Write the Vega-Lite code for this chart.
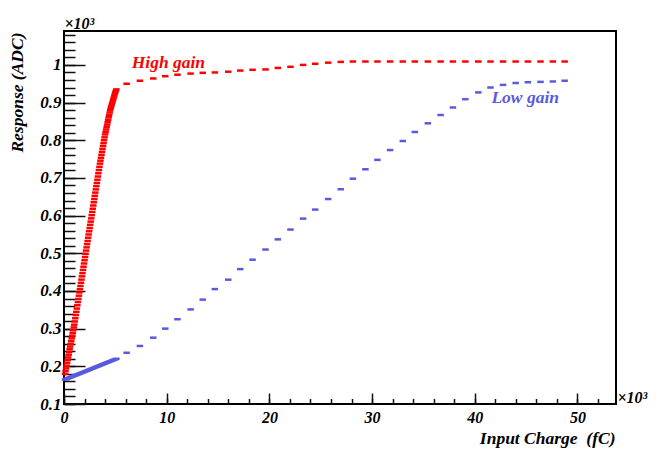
{
  "$schema": "https://vega.github.io/schema/vega-lite/v6.json",
  "width": 552,
  "height": 373,
  "autosize": "none",
  "padding": {"left": 64, "top": 31, "right": 48, "bottom": 52},
  "background": "white",
  "config": {
    "view": {"stroke": "#000000", "strokeWidth": 2},
    "axis": {
      "domain": false, "grid": false, "tickColor": "#111111", "tickWidth": 1.5,
      "labelFont": "Liberation Serif", "labelFontSize": 17, "labelFontStyle": "italic", "labelFontWeight": "bold", "labelColor": "#000000",
      "labelFlush": false, "labelOverlap": false,
      "titleFont": "Liberation Serif", "titleFontSize": 17.5, "titleFontStyle": "italic", "titleFontWeight": "bold", "titleColor": "#000000"
    }
  },
  "datasets": {
    "high": [
      {"charge":100,"adc":180},{"charge":150,"adc":187.3},{"charge":200,"adc":194.5},{"charge":250,"adc":201.8},{"charge":300,"adc":209},
      {"charge":350,"adc":216.3},{"charge":400,"adc":223.5},{"charge":450,"adc":230.8},{"charge":500,"adc":238},{"charge":550,"adc":245.3},
      {"charge":600,"adc":252.5},{"charge":650,"adc":259.8},{"charge":700,"adc":267},{"charge":750,"adc":274.3},{"charge":800,"adc":281.5},
      {"charge":850,"adc":288.8},{"charge":900,"adc":296},{"charge":950,"adc":303.3},{"charge":1000,"adc":310.5},{"charge":1050,"adc":319.1},
      {"charge":1100,"adc":327.6},{"charge":1150,"adc":336.2},{"charge":1200,"adc":344.7},{"charge":1250,"adc":353.3},{"charge":1300,"adc":361.8},
      {"charge":1350,"adc":370.4},{"charge":1400,"adc":378.9},{"charge":1450,"adc":387.5},{"charge":1500,"adc":396},{"charge":1550,"adc":404.6},
      {"charge":1600,"adc":413.1},{"charge":1650,"adc":421.7},{"charge":1700,"adc":430.2},{"charge":1750,"adc":438.8},{"charge":1800,"adc":447.3},
      {"charge":1850,"adc":455.9},{"charge":1900,"adc":464.4},{"charge":1950,"adc":473},{"charge":2000,"adc":481.5},{"charge":2050,"adc":490.1},
      {"charge":2100,"adc":498.6},{"charge":2150,"adc":507.2},{"charge":2200,"adc":515.7},{"charge":2250,"adc":524.3},{"charge":2300,"adc":532.8},
      {"charge":2350,"adc":541.4},{"charge":2400,"adc":549.9},{"charge":2450,"adc":558.5},{"charge":2500,"adc":567},{"charge":2550,"adc":575.6},
      {"charge":2600,"adc":584.1},{"charge":2650,"adc":592.7},{"charge":2700,"adc":601.2},{"charge":2750,"adc":609.8},{"charge":2800,"adc":618.3},
      {"charge":2850,"adc":626.9},{"charge":2900,"adc":635.4},{"charge":2950,"adc":644},{"charge":3000,"adc":652.5},{"charge":3050,"adc":661.1},
      {"charge":3100,"adc":669.6},{"charge":3150,"adc":678.2},{"charge":3200,"adc":686.7},{"charge":3250,"adc":695.3},{"charge":3300,"adc":703.8},
      {"charge":3350,"adc":712.4},{"charge":3400,"adc":720.9},{"charge":3450,"adc":729.5},{"charge":3500,"adc":738},{"charge":3550,"adc":745.8},
      {"charge":3600,"adc":753.5},{"charge":3650,"adc":761.3},{"charge":3700,"adc":769},{"charge":3750,"adc":776.8},{"charge":3800,"adc":784.5},
      {"charge":3850,"adc":792.3},{"charge":3900,"adc":800},{"charge":3950,"adc":807.8},{"charge":4000,"adc":815.5},{"charge":4050,"adc":822},
      {"charge":4100,"adc":828.5},{"charge":4150,"adc":835},{"charge":4200,"adc":841.5},{"charge":4250,"adc":848},{"charge":4300,"adc":854.5},
      {"charge":4350,"adc":861},{"charge":4400,"adc":867.5},{"charge":4450,"adc":874},{"charge":4500,"adc":880.5},{"charge":4550,"adc":885.3},
      {"charge":4600,"adc":890},{"charge":4650,"adc":894.8},{"charge":4700,"adc":899.5},{"charge":4750,"adc":904.3},{"charge":4800,"adc":909},
      {"charge":4850,"adc":913.8},{"charge":4900,"adc":918.5},{"charge":4950,"adc":923.3},{"charge":5000,"adc":928},{"charge":5050,"adc":931.5},
      {"charge":5100,"adc":935},
      {"charge":6100,"adc":950},{"charge":7390,"adc":958},{"charge":8690,"adc":964},{"charge":9860,"adc":970},{"charge":11050,"adc":974},
      {"charge":12330,"adc":977},{"charge":13510,"adc":979},{"charge":14690,"adc":980},{"charge":15990,"adc":982},{"charge":17160,"adc":985},
      {"charge":18360,"adc":987},{"charge":19620,"adc":988},{"charge":20820,"adc":992},{"charge":22050,"adc":995},{"charge":23280,"adc":1000},
      {"charge":24460,"adc":1003},{"charge":25720,"adc":1006},{"charge":26950,"adc":1008},{"charge":28130,"adc":1009},{"charge":29350,"adc":1009},
      {"charge":30520,"adc":1009},{"charge":31750,"adc":1009},{"charge":32990,"adc":1009},{"charge":34160,"adc":1009},{"charge":35430,"adc":1009},
      {"charge":36670,"adc":1009},{"charge":37870,"adc":1009},{"charge":39080,"adc":1009},{"charge":40340,"adc":1009},{"charge":41530,"adc":1009},
      {"charge":42750,"adc":1009},{"charge":43980,"adc":1009},{"charge":45170,"adc":1009},{"charge":46400,"adc":1009},{"charge":47600,"adc":1009},
      {"charge":48750,"adc":1009}
    ],
    "low": [
      {"charge":100,"adc":165},{"charge":200,"adc":166.1},{"charge":300,"adc":167.2},{"charge":400,"adc":168.3},{"charge":500,"adc":169.4},
      {"charge":600,"adc":170.5},{"charge":700,"adc":171.6},{"charge":800,"adc":172.7},{"charge":900,"adc":173.8},{"charge":1000,"adc":174.9},
      {"charge":1100,"adc":176},{"charge":1200,"adc":177.1},{"charge":1300,"adc":178.2},{"charge":1400,"adc":179.3},{"charge":1500,"adc":180.4},
      {"charge":1600,"adc":181.5},{"charge":1700,"adc":182.6},{"charge":1800,"adc":183.7},{"charge":1900,"adc":184.8},{"charge":2000,"adc":185.9},
      {"charge":2100,"adc":187},{"charge":2200,"adc":188.1},{"charge":2300,"adc":189.2},{"charge":2400,"adc":190.3},{"charge":2500,"adc":191.4},
      {"charge":2600,"adc":192.5},{"charge":2700,"adc":193.6},{"charge":2800,"adc":194.7},{"charge":2900,"adc":195.8},{"charge":3000,"adc":196.9},
      {"charge":3100,"adc":198},{"charge":3200,"adc":199.1},{"charge":3300,"adc":200.2},{"charge":3400,"adc":201.3},{"charge":3500,"adc":202.4},
      {"charge":3600,"adc":203.5},{"charge":3700,"adc":204.6},{"charge":3800,"adc":205.7},{"charge":3900,"adc":206.8},{"charge":4000,"adc":207.9},
      {"charge":4100,"adc":209},{"charge":4200,"adc":210.1},{"charge":4300,"adc":211.2},{"charge":4400,"adc":212.3},{"charge":4500,"adc":213.4},
      {"charge":4600,"adc":214.5},{"charge":4700,"adc":215.6},{"charge":4800,"adc":216.7},{"charge":4900,"adc":217.8},{"charge":5000,"adc":218.9},
      {"charge":5100,"adc":220},
      {"charge":6100,"adc":236},{"charge":7390,"adc":254},{"charge":8690,"adc":276},{"charge":9860,"adc":300},{"charge":11050,"adc":325},
      {"charge":12330,"adc":351},{"charge":13510,"adc":377},{"charge":14690,"adc":405},{"charge":15990,"adc":430},{"charge":17160,"adc":458},
      {"charge":18360,"adc":483},{"charge":19620,"adc":510},{"charge":20820,"adc":537},{"charge":22050,"adc":563},{"charge":23280,"adc":592},
      {"charge":24460,"adc":616},{"charge":25720,"adc":644},{"charge":26950,"adc":670},{"charge":28130,"adc":698},{"charge":29350,"adc":723},
      {"charge":30520,"adc":748},{"charge":31750,"adc":774},{"charge":32990,"adc":798},{"charge":34160,"adc":822},{"charge":35430,"adc":845},
      {"charge":36670,"adc":867},{"charge":37870,"adc":887},{"charge":39080,"adc":909},{"charge":40340,"adc":927},{"charge":41530,"adc":940},
      {"charge":42750,"adc":947},{"charge":43980,"adc":952},{"charge":45170,"adc":954},{"charge":46400,"adc":955},{"charge":47600,"adc":956},
      {"charge":48750,"adc":958}
    ]
  },
  "layer": [
    {
      "data": {"name": "high"},
      "mark": {"type": "tick", "orient": "horizontal", "size": 6.5, "thickness": 2.5, "color": "#ff0000", "opacity": 1},
      "encoding": {
        "x": {"field": "charge", "type": "quantitative",
          "scale": {"domain": [0, 53750], "nice": false, "zero": false},
          "axis": {"orient": "bottom", "values": [0, 10000, 20000, 30000, 40000, 50000],
            "labelExpr": "datum.value / 1000", "tickSize": -11, "labelPadding": 16, "labelFontSize": 16,
            "title": "Input Charge \u00a0(fC)", "titleX": 551, "titleY": 39, "titleAlign": "right", "titleBaseline": "alphabetic", "titleAngle": 0}},
        "y": {"field": "adc", "type": "quantitative",
          "scale": {"domain": [100, 1090], "nice": false, "zero": false},
          "axis": {"orient": "left", "values": [100, 200, 300, 400, 500, 600, 700, 800, 900, 1000],
            "labelExpr": "datum.value / 1000", "tickSize": -21, "labelPadding": 24,
            "title": "Response (ADC)", "titleX": -42, "titleY": 1, "titleAngle": 270, "titleAlign": "right", "titleBaseline": "alphabetic"}}
      }
    },
    {
      "data": {"name": "low"},
      "mark": {"type": "tick", "orient": "horizontal", "size": 6.5, "thickness": 2.5, "color": "#5a5ade", "opacity": 1},
      "encoding": {
        "x": {"field": "charge", "type": "quantitative",
          "axis": {"orient": "bottom", "values": [0, 2000, 4000, 6000, 8000, 10000, 12000, 14000, 16000, 18000, 20000, 22000, 24000, 26000, 28000, 30000, 32000, 34000, 36000, 38000, 40000, 42000, 44000, 46000, 48000, 50000, 52000],
            "labels": false, "tickSize": -5.5,
            "title": "×10³", "titleX": 553, "titleY": -2, "titleAlign": "left", "titleBaseline": "alphabetic", "titleAngle": 0, "titleFontSize": 16}},
        "y": {"field": "adc", "type": "quantitative",
          "axis": {"orient": "left", "values": [100, 120, 140, 160, 180, 200, 220, 240, 260, 280, 300, 320, 340, 360, 380, 400, 420, 440, 460, 480, 500, 520, 540, 560, 580, 600, 620, 640, 660, 680, 700, 720, 740, 760, 780, 800, 820, 840, 860, 880, 900, 920, 940, 960, 980, 1000, 1020, 1040, 1060, 1080],
            "labels": false, "tickSize": -11,
            "title": "×10³", "titleX": 0, "titleY": -3, "titleAlign": "left", "titleBaseline": "alphabetic", "titleAngle": 0, "titleFontSize": 16}}
      }
    },
    {
      "data": {"values": [{}]},
      "mark": {"type": "text", "text": "High gain", "color": "#ff0000", "font": "Liberation Serif", "fontSize": 17.5, "fontStyle": "italic", "fontWeight": "bold", "align": "left", "baseline": "alphabetic"},
      "encoding": {
        "x": {"datum": 6590, "type": "quantitative", "axis": null},
        "y": {"datum": 992, "type": "quantitative", "axis": null}
      }
    },
    {
      "data": {"values": [{}]},
      "mark": {"type": "text", "text": "Low gain", "color": "#5a5ade", "font": "Liberation Serif", "fontSize": 17.5, "fontStyle": "italic", "fontWeight": "bold", "align": "left", "baseline": "alphabetic"},
      "encoding": {
        "x": {"datum": 41620, "type": "quantitative", "axis": null},
        "y": {"datum": 899, "type": "quantitative", "axis": null}
      }
    }
  ],
  "resolve": {"axis": {"x": "independent", "y": "independent"}}
}
